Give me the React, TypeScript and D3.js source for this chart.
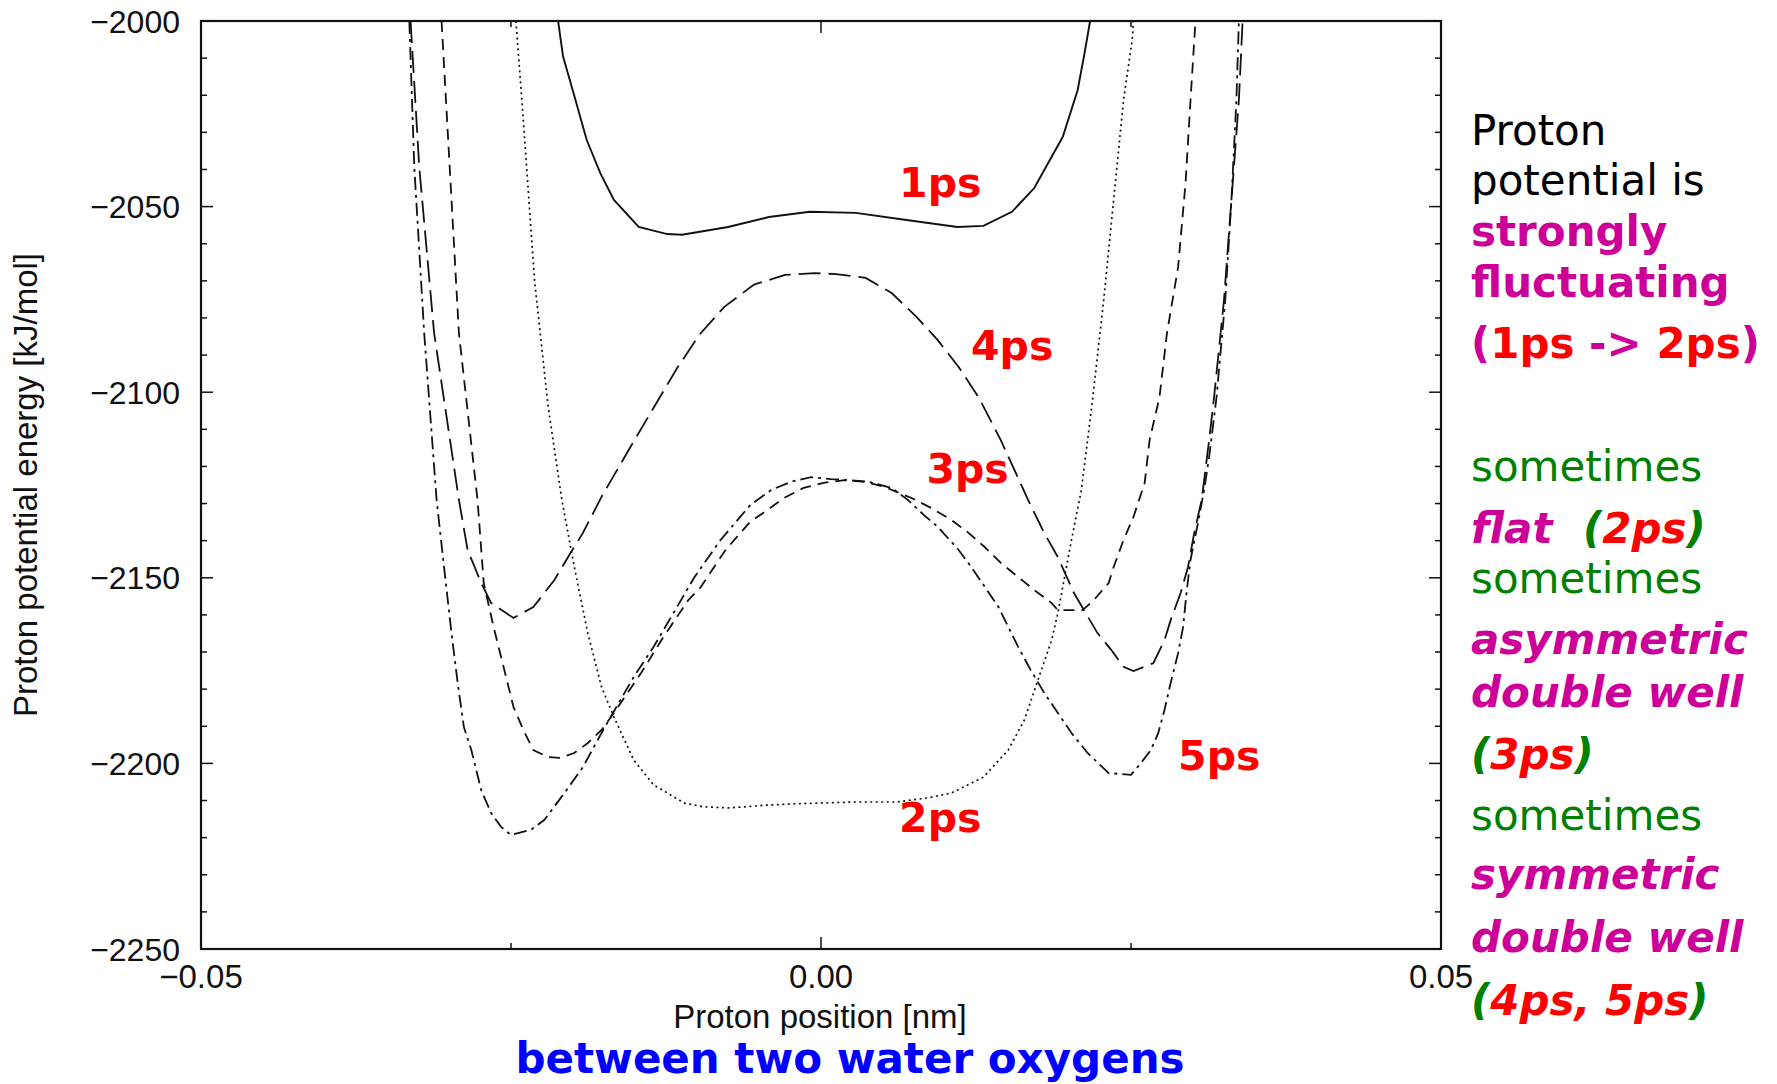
import React from "react";
import * as d3 from "d3";

// ---- data (proton position [nm], proton potential energy [kJ/mol]) ----
const x1ps = [-0.0212, -0.0208, -0.0198, -0.0189, -0.0178, -0.0167, -0.0147, -0.0124, -0.0112, -0.0075, -0.0042, -0.0009, 0.0028, 0.0069, 0.011, 0.0131, 0.0154, 0.0172, 0.0195, 0.0207, 0.0213, 0.0217];
const e1ps = [-2000, -2009.6, -2021.3, -2032, -2041, -2048.2, -2055.5, -2057.4, -2057.6, -2055.5, -2052.8, -2051.4, -2051.7, -2053.6, -2055.5, -2055.2, -2051.4, -2045, -2031.2, -2018.6, -2007.8, -2000];

const x2ps = [-0.0246, -0.024, -0.0231, -0.022, -0.0209, -0.0199, -0.0188, -0.0177, -0.0167, -0.0151, -0.0135, -0.011, -0.0095, -0.0075, -0.0042, -0.0005, 0.0028, 0.0061, 0.0086, 0.0105, 0.0131, 0.0151, 0.0164, 0.0175, 0.0186, 0.0191, 0.0196, 0.0202, 0.021, 0.0215, 0.0219, 0.0228, 0.0236, 0.0244, 0.0251, 0.0252];
const e2ps = [-2000, -2027, -2070, -2104, -2129, -2147, -2165, -2179.4, -2187.5, -2199.1, -2205.8, -2210.7, -2211.7, -2212, -2211.2, -2210.7, -2210.4, -2210.4, -2209.3, -2208.0, -2203.7, -2196.4, -2188.3, -2177.5, -2166.8, -2159.5, -2150.6, -2139.8, -2126.3, -2112.9, -2102, -2075.2, -2048.2, -2021.3, -2005, -2000];

const x3ps = [-0.0306, -0.0292, -0.0277, -0.0272, -0.0264, -0.0256, -0.0248, -0.024, -0.0232, -0.022, -0.021, -0.0199, -0.0188, -0.0177, -0.0167, -0.0156, -0.0145, -0.0127, -0.0107, -0.0097, -0.0077, -0.0057, -0.0043, -0.003, -0.0014, 0.0002, 0.0019, 0.0036, 0.0051, 0.0073, 0.0089, 0.0105, 0.0119, 0.0132, 0.0145, 0.0159, 0.0172, 0.0186, 0.0191, 0.0211, 0.022, 0.0232, 0.0236, 0.0244, 0.0252, 0.0261, 0.0265, 0.0273, 0.0279, 0.0288, 0.0294, 0.0298, 0.0302];
const e3ps = [-2000, -2084.1, -2129, -2151.4, -2163.3, -2174, -2184.8, -2191, -2196.4, -2198.3, -2198.5, -2197.2, -2194.5, -2191, -2186.4, -2181, -2175.6, -2165.9, -2156, -2152.5, -2142.5, -2134.9, -2131.7, -2128.5, -2125.8, -2124.4, -2123.7, -2124.2, -2125.5, -2128.5, -2131.2, -2134.4, -2137.9, -2141.7, -2146, -2149.8, -2153.3, -2156.8, -2158.7, -2158.7, -2156, -2151.4, -2147.1, -2139.8, -2133.6, -2124.5, -2112.9, -2101.3, -2084.1, -2066.3, -2043.6, -2021.3, -2000];

const x4ps = [-0.0331, -0.0324, -0.0312, -0.0292, -0.0285, -0.0274, -0.0266, -0.0248, -0.0232, -0.0215, -0.0202, -0.0192, -0.0177, -0.0155, -0.0132, -0.0116, -0.0098, -0.0078, -0.0054, -0.0029, -0.0005, 0.0012, 0.0036, 0.0057, 0.0077, 0.0094, 0.0111, 0.0127, 0.0145, 0.0167, 0.018, 0.0191, 0.0204, 0.0223, 0.0234, 0.0244, 0.0252, 0.0268, 0.0277, 0.0282, 0.029, 0.0296, 0.0301, 0.0307, 0.0313, 0.0317, 0.0325, 0.0329, 0.0333, 0.0337, 0.034];
const e4ps = [-2000, -2039.3, -2084.1, -2129, -2142.5, -2151.4, -2156.8, -2160.8, -2157.9, -2150.6, -2143.3, -2137.9, -2128.2, -2115.5, -2102.5, -2093.5, -2084.5, -2077.0, -2071.0, -2068.4, -2067.9, -2068.2, -2069.2, -2073.3, -2079.7, -2085.9, -2093.2, -2101.3, -2112.9, -2129, -2137.9, -2144.4, -2154.1, -2164.9, -2169.4, -2174, -2175.1, -2173, -2166.8, -2161.4, -2154.1, -2147.1, -2137.9, -2129, -2112.9, -2101.3, -2075.2, -2057.1, -2039.3, -2021.3, -2000];

const x5ps = [-0.0332, -0.0328, -0.032, -0.031, -0.0304, -0.0298, -0.0293, -0.0288, -0.0282, -0.0274, -0.0266, -0.0258, -0.025, -0.0234, -0.0223, -0.0207, -0.0192, -0.0177, -0.0165, -0.0151, -0.0135, -0.0119, -0.0102, -0.0081, -0.0057, -0.004, -0.0024, -0.0008, 0.0008, 0.0024, 0.0038, 0.0057, 0.007, 0.0083, 0.0094, 0.0111, 0.0121, 0.0132, 0.0143, 0.0151, 0.0159, 0.0169, 0.018, 0.0191, 0.0202, 0.0215, 0.0232, 0.025, 0.0258, 0.0266, 0.0272, 0.0277, 0.0282, 0.0288, 0.0292, 0.0295, 0.0298, 0.0304, 0.0309, 0.0313, 0.0319, 0.0326, 0.0331, 0.0335, 0.0337];
const e5ps = [-2000, -2039.3, -2084.1, -2129, -2147.1, -2164.9, -2178.3, -2190.2, -2196.4, -2207.2, -2213.4, -2217.1, -2219.3, -2217.9, -2215.2, -2208, -2201, -2191.8, -2184.8, -2176.7, -2168.6, -2159.5, -2149.8, -2139.8, -2130.4, -2126.3, -2124.1, -2122.9, -2123.4, -2123.7, -2124.1, -2125.8, -2129, -2133.1, -2136.2, -2142.5, -2147, -2152.4, -2157.8, -2163.2, -2168.6, -2174.8, -2181, -2186.4, -2191.8, -2197.2, -2202.6, -2203.1, -2199.9, -2196.4, -2191.8, -2185.6, -2178.3, -2170.3, -2163.3, -2153.3, -2145.2, -2135.2, -2126.3, -2117.5, -2101.3, -2075.2, -2048.2, -2021.3, -2000];

const yTicks = [-2000, -2050, -2100, -2150, -2200, -2250];
const yTickLabels = ["\u22122000", "\u22122050", "\u22122100", "\u22122150", "\u22122200", "\u22122250"];
const xTicks = [-0.05, 0.0, 0.05];
const xTickLabels = ["\u22120.05", "0.00", "0.05"];
const xMinorTicks = [-0.025, 0.025];

const curveNames = ["1ps", "2ps", "3ps", "4ps", "5ps"];
const curveLabelX = [0.0063, 0.0063, 0.0085, 0.0121, 0.0288];
const curveLabelE = [-2047.4, -2218.5, -2124.5, -2091.3, -2201.8];

const W = 1777;
const H = 1084;
const PL = 201, PR = 1441, PT = 21, PB = 949;

const MAG = "#cc0099";
const RED = "#ff0000";
const GRN = "#008000";

export default function App() {
  const x = d3.scaleLinear().domain([-0.05, 0.05]).range([PL, PR]);
  const y = d3.scaleLinear().domain([-2250, -2000]).range([PB, PT]);
  const line = d3
    .line<[number, number]>()
    .x((d) => x(d[0]))
    .y((d) => y(d[1]))
    .curve(d3.curveLinear);

  const series = [
    { xs: x1ps, es: e1ps, dash: "none", w: 1.9 },
    { xs: x2ps, es: e2ps, dash: "2,3.5", w: 1.7 },
    { xs: x3ps, es: e3ps, dash: "11,7", w: 1.8 },
    { xs: x4ps, es: e4ps, dash: "22,8", w: 1.8 },
    { xs: x5ps, es: e5ps, dash: "13,5,3,5", w: 1.8 },
  ];

  const yMinor = d3.range(-2250, -1999, 10);
  const axisFont = "'Liberation Sans', Arial, Helvetica, sans-serif";
  const annFont = "'DejaVu Sans', Verdana, sans-serif";

  const annX = 1471;

  return (
    <svg
      width={W}
      height={H}
      viewBox={`0 0 ${W} ${H}`}
      style={{ position: "absolute", left: 0, top: 0, background: "#fff" }}
    >
      <rect x={0} y={0} width={W} height={H} fill="#fff" />
      <defs>
        <clipPath id="plotclip">
          <rect x={PL} y={PT} width={PR - PL} height={PB - PT} />
        </clipPath>
      </defs>

      {/* curves */}
      <g clipPath="url(#plotclip)">
        {series.map((s, i) => (
          <path
            key={i}
            d={line(s.xs.map((v, j) => [v, s.es[j]] as [number, number])) || ""}
            fill="none"
            stroke="#111"
            strokeWidth={s.w}
            strokeDasharray={s.dash}
          />
        ))}
      </g>

      {/* frame */}
      <rect x={PL} y={PT} width={PR - PL} height={PB - PT} fill="none" stroke="#111" strokeWidth={2.2} />

      {/* y ticks */}
      {yMinor.map((v) => {
        const major = Math.abs(v % 50) < 1e-6;
        const len = major ? 12 : 6;
        return (
          <g key={v}>
            <line x1={PL} x2={PL + len} y1={y(v)} y2={y(v)} stroke="#111" strokeWidth={1.5} />
            <line x1={PR} x2={PR - len} y1={y(v)} y2={y(v)} stroke="#111" strokeWidth={1.5} />
          </g>
        );
      })}
      {/* x ticks */}
      {xTicks.map((v) => (
        <g key={v}>
          <line x1={x(v)} x2={x(v)} y1={PB} y2={PB - 12} stroke="#111" strokeWidth={1.5} />
          <line x1={x(v)} x2={x(v)} y1={PT} y2={PT + 12} stroke="#111" strokeWidth={1.5} />
        </g>
      ))}
      {xMinorTicks.map((v) => (
        <g key={v}>
          <line x1={x(v)} x2={x(v)} y1={PB} y2={PB - 6} stroke="#111" strokeWidth={1.5} />
          <line x1={x(v)} x2={x(v)} y1={PT} y2={PT + 6} stroke="#111" strokeWidth={1.5} />
        </g>
      ))}

      {/* y tick labels */}
      {yTicks.map((v, i) => (
        <text
          key={v}
          x={180}
          y={y(v)}
          dy="0.36em"
          textAnchor="end"
          fontFamily={axisFont}
          fontSize={32}
          fill="#111"
        >
          {yTickLabels[i]}
        </text>
      ))}
      {/* x tick labels */}
      {xTicks.map((v, i) => (
        <text
          key={v}
          x={x(v)}
          y={988}
          textAnchor="middle"
          fontFamily={axisFont}
          fontSize={33}
          fill="#111"
        >
          {xTickLabels[i]}
        </text>
      ))}

      {/* axis titles */}
      <text x={820} y={1028} textAnchor="middle" fontFamily={axisFont} fontSize={33} fill="#111">
        Proton position [nm]
      </text>
      <text
        transform="translate(37,485) rotate(-90)"
        textAnchor="middle"
        fontFamily={axisFont}
        fontSize={33}
        fill="#111"
      >
        Proton potential energy [kJ/mol]
      </text>
      <text
        x={850}
        y={1073}
        textAnchor="middle"
        fontFamily={annFont}
        fontWeight="bold"
        fontSize={42}
        fill="#0000ff"
      >
        between two water oxygens
      </text>

      {/* curve labels */}
      {curveNames.map((n, i) => (
        <text
          key={n}
          x={x(curveLabelX[i])}
          y={y(curveLabelE[i])}
          fontFamily={annFont}
          fontWeight="bold"
          fontSize={41}
          fill={RED}
        >
          {n}
        </text>
      ))}

      {/* right-hand annotations */}
      <g fontFamily={annFont} fontSize={42} style={{ whiteSpace: "pre" }}>
        <text x={annX} y={145} fill="#000">Proton</text>
        <text x={annX} y={195} fill="#000">potential is</text>
        <text x={annX} y={246} fill={MAG} fontWeight="bold">strongly</text>
        <text x={annX} y={297} fill={MAG} fontWeight="bold">fluctuating</text>
        <text x={annX} y={358} fontWeight="bold">
          <tspan fill={MAG}>(</tspan>
          <tspan fill={RED}>1ps</tspan>
          <tspan fill={MAG}>{" -> "}</tspan>
          <tspan fill={RED}>2ps</tspan>
          <tspan fill={MAG}>)</tspan>
        </text>

        <text x={annX} y={481} fill={GRN}>sometimes</text>
        <text x={annX} y={543} fontWeight="bold" fontStyle="italic">
          <tspan fill={MAG}>flat</tspan>
          <tspan x={1583} fill={GRN}>(</tspan>
          <tspan fill={RED}>2ps</tspan>
          <tspan fill={GRN}>)</tspan>
        </text>
        <text x={annX} y={593} fill={GRN}>sometimes</text>
        <text x={annX} y={654} fill={MAG} fontWeight="bold" fontStyle="italic">asymmetric</text>
        <text x={annX} y={707} fill={MAG} fontWeight="bold" fontStyle="italic">double well</text>
        <text x={annX} y={769} fontWeight="bold" fontStyle="italic">
          <tspan fill={GRN}>(</tspan>
          <tspan fill={RED}>3ps</tspan>
          <tspan fill={GRN}>)</tspan>
        </text>
        <text x={annX} y={830} fill={GRN}>sometimes</text>
        <text x={annX} y={889} fill={MAG} fontWeight="bold" fontStyle="italic">symmetric</text>
        <text x={annX} y={952} fill={MAG} fontWeight="bold" fontStyle="italic">double well</text>
        <text x={annX} y={1015} fontWeight="bold" fontStyle="italic">
          <tspan fill={GRN}>(</tspan>
          <tspan fill={RED}>4ps, 5ps</tspan>
          <tspan fill={GRN}>)</tspan>
        </text>
      </g>
    </svg>
  );
}
